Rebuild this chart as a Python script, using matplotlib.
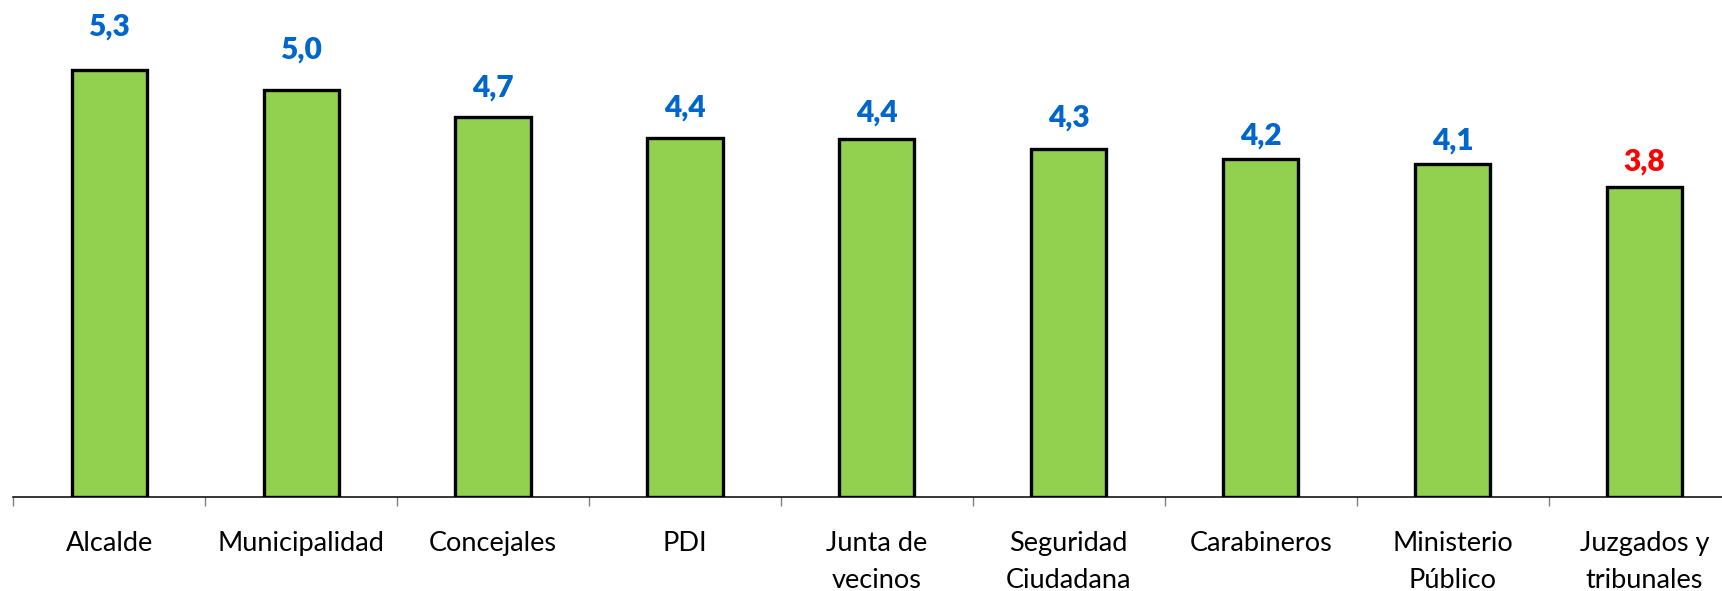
import matplotlib
matplotlib.use("Agg")
import matplotlib.pyplot as plt
import numpy as np
from matplotlib.ticker import FixedLocator

# ---- data ----
categories = ["Alcalde", "Municipalidad", "Concejales", "PDI", "Junta de\nvecinos",
              "Seguridad\nCiudadana", "Carabineros", "Ministerio\nPúblico",
              "Juzgados y\ntribunales"]
values = [5.27, 5.03, 4.69, 4.43, 4.42, 4.30, 4.18, 4.12, 3.83]

# ---- style ----
label_gap_px = [34.5, 31.5, 20.5, 21.5, 17.5, 22.5, 14.5, 14.5, 16.5]
label_colors = ["#0066CC"] * 8 + ["#FF0000"]
bar_color = "#92D050"
FONT = "Lato"

W, H, DPI = 1722, 591, 100
fig = plt.figure(figsize=(W / DPI, H / DPI), dpi=DPI)
px_per_unit = 81.0
ax_left_px, ax_bottom_px = 13.3, H - 497.3
ax_w_px = 9 * 191.9
ax_h_px = 492.3
ax = fig.add_axes([ax_left_px / W, ax_bottom_px / H, ax_w_px / W, ax_h_px / H])

x = np.arange(len(categories))
ax.bar(x, values, width=0.392, color=bar_color, edgecolor="black", linewidth=2.4, zorder=3)

for xi, v, gap, c in zip(x, values, label_gap_px, label_colors):
    ax.annotate(f"{v:.1f}".replace(".", ","), xy=(xi, v), xytext=(0, gap * 72 / DPI),
                textcoords="offset points", ha="center", va="baseline",
                fontsize=21.5, fontweight="heavy", color=c, family=FONT)

ax.set_xlim(-0.5, len(categories) - 0.5)
ax.set_ylim(0, ax_h_px / px_per_unit)

for s in ["top", "right", "left"]:
    ax.spines[s].set_visible(False)
ax.spines["bottom"].set_linewidth(1.1)
ax.spines["bottom"].set_color("black")
ax.set_yticks([])

ax.set_xticks(x)
ax.set_xticklabels(categories, fontsize=19.5, family=FONT, linespacing=1.6)
ax.tick_params(axis="x", which="major", length=0, pad=24.5)
ax.xaxis.set_minor_locator(FixedLocator(np.arange(-0.5, len(categories), 1.0)))
ax.tick_params(axis="x", which="minor", length=6.5, width=1, color="#808080", direction="out")

fig.savefig("out.png", dpi=DPI)
